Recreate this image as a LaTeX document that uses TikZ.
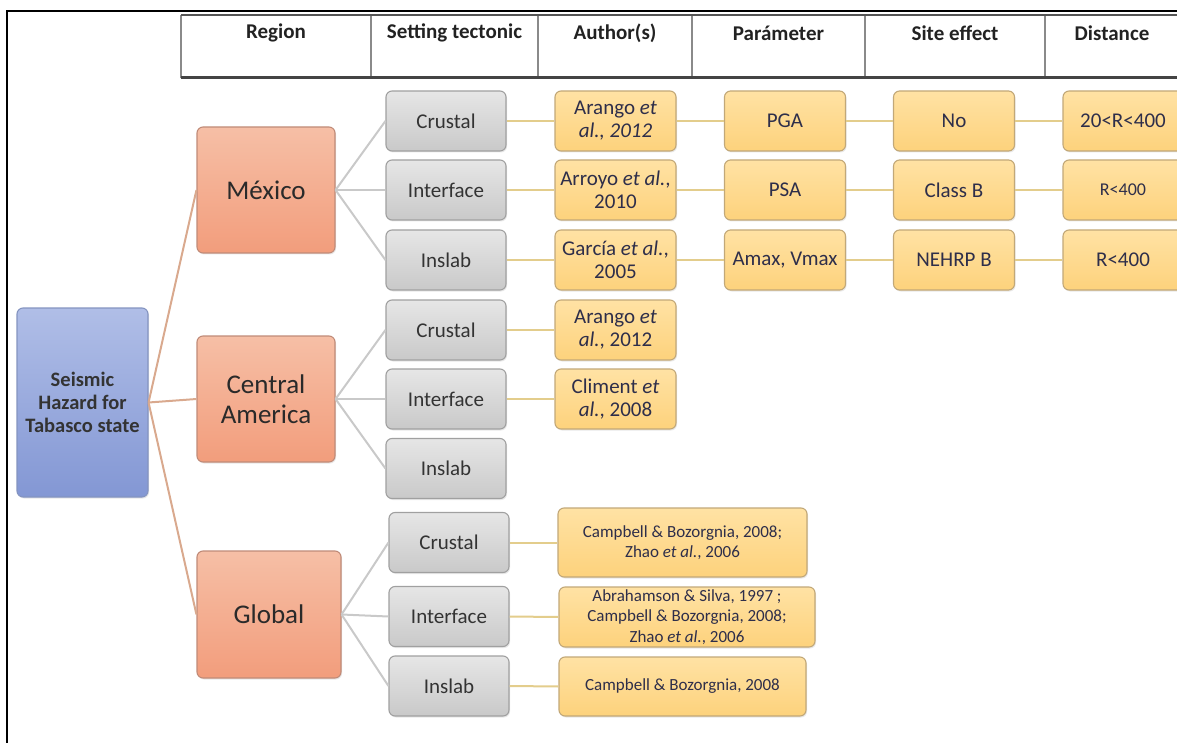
\documentclass[tikz,border=0pt]{standalone}
\usepackage{fontspec}
\setmainfont{Carlito}
\usetikzlibrary{shadows}

\definecolor{txtgray}{HTML}{333333}
\definecolor{txtnavy}{HTML}{2E2E4A}
\definecolor{rootline}{HTML}{D9A98E}
\definecolor{grayline}{HTML}{C9C9C9}
\definecolor{goldline}{HTML}{E3CD8C}
\definecolor{rootdraw}{HTML}{8494C0}
\definecolor{roottop}{HTML}{B0BEE7}
\definecolor{rootbot}{HTML}{8397D4}
\definecolor{regdraw}{HTML}{C08B78}
\definecolor{regtop}{HTML}{F6BFA6}
\definecolor{regbot}{HTML}{F29D7C}
\definecolor{tectdraw}{HTML}{A0A0A0}
\definecolor{tecttop}{HTML}{E6E6E6}
\definecolor{tectbot}{HTML}{C9C9C9}
\definecolor{refdraw}{HTML}{C2A878}
\definecolor{reftop}{HTML}{FFE2A4}
\definecolor{refbot}{HTML}{FDD27C}
\definecolor{hdrtext}{HTML}{222222}
\definecolor{regtext}{HTML}{2A2A2A}
\definecolor{rulegray}{HTML}{8A8A8A}
\definecolor{ruletop}{HTML}{555555}
\definecolor{rulebot}{HTML}{444444}

\newcommand\fsz[2]{\fontsize{#1}{#2}\selectfont}

\tikzset{
  box/.style={rounded corners=6pt, line width=1.1pt, inner sep=0pt, align=center,
    drop shadow={shadow xshift=1pt, shadow yshift=-1.5pt, opacity=0.18}},
  rootbox/.style={box, draw=rootdraw, top color=roottop, bottom color=rootbot,
    minimum width=131pt, minimum height=189pt, font=\fsz{20.5}{23}\bfseries, text=txtgray},
  regionbox/.style={box, draw=regdraw, top color=regtop, bottom color=regbot,
    minimum width=138pt, minimum height=126pt, font=\fsz{27}{30}, text=regtext},
  tectbox/.style={box, draw=tectdraw, top color=tecttop, bottom color=tectbot,
    minimum width=120pt, minimum height=60pt, font=\fsz{21}{24}, text=txtgray},
  refbox/.style={box, draw=refdraw, top color=reftop, bottom color=refbot,
    minimum width=121pt, minimum height=60pt, font=\fsz{21}{23}, text=txtnavy},
  wideref/.style={refbox, font=\fsz{17}{20.5}},
  hdr/.style={font=\fsz{21}{24}\bfseries, text=hdrtext},
  rootlink/.style={rootline, line width=2pt},
  reglink/.style={grayline, line width=2pt},
  reflink/.style={goldline, line width=2pt}
}

\begin{document}
\begin{tikzpicture}[x=1pt, y=-1pt]

\useasboundingbox (0,0) rectangle (1177,743);
\clip (0,0) rectangle (1177,743);

% frame
\draw[line width=2.2pt] (7,743) -- (7,11) -- (1177,11);

% header table
\draw[rulegray, line width=1.5pt] (181,15) -- (181,78);
\foreach \xd in {371,538,692,865,1045}
  \draw[rulegray, line width=1.3pt] (\xd,15) -- (\xd,78);
\draw[ruletop, line width=2pt] (181,15) -- (1177,15);
\draw[rulebot, line width=3pt] (181,78) -- (1177,78);

\node[hdr] (hreg) at (276,33) {Region};
\node[hdr] (hset) at (454.5,33) {Setting tectonic};
\node[hdr] (haut) at (615,33) {Author(s)};
\node[hdr] (hpar) at (778.5,33) {Parámeter};
\node[hdr] (hsit) at (955,33) {Site effect};
\node[hdr] (hdis) at (1112,33) {Distance};

% root and regions
\node[rootbox] (root) at (82.5,402.5) {Seismic\\Hazard for\\Tabasco state};
\node[regionbox] (mex) at (266,190) {México};
\node[regionbox] (cam) at (266,399) {Central\\America};
\node[regionbox, minimum width=144pt, minimum height=127pt] (glo) at (269,614.5) {Global};

% tectonic settings
\node[tectbox] (mexcru) at (446,121) {Crustal};
\node[tectbox] (mexint) at (446,190) {Interface};
\node[tectbox] (mexins) at (446,260) {Inslab};
\node[tectbox] (camcru) at (446,330) {Crustal};
\node[tectbox] (camint) at (446,399) {Interface};
\node[tectbox] (camins) at (446,468.5) {Inslab};
\node[tectbox] (glocru) at (449,542.5) {Crustal};
\node[tectbox] (gloint) at (449,616.5) {Interface};
\node[tectbox] (gloins) at (449,686) {Inslab};

% authors
\node[refbox] (mexcrua) at (615.5,121) {Arango \textit{et}\\\textit{al., 2012}};
\node[refbox] (mexinta) at (615.5,190) {Arroyo \textit{et al.},\\2010};
\node[refbox] (mexinsa) at (615.5,260) {García \textit{et al.},\\2005};
\node[refbox] (camcrua) at (615.5,330) {Arango \textit{et}\\\textit{al.}, 2012};
\node[refbox] (caminta) at (615.5,399) {Climent \textit{et}\\\textit{al.}, 2008};
\node[wideref, minimum width=249pt, minimum height=69pt] (glocrua) at (682.5,542.5)
  {Campbell \& Bozorgnia, 2008;\\Zhao \textit{et al.}, 2006};
\node[wideref, minimum width=256pt, minimum height=60pt] (glointa) at (687,617)
  {Abrahamson \& Silva, 1997 ;\\Campbell \& Bozorgnia, 2008;\\Zhao \textit{et al.}, 2006};
\node[wideref, minimum width=247pt, minimum height=59pt] (gloinsa) at (682.5,686.5)
  {Campbell \& Bozorgnia, 2008};

% parameter, site effect, distance (Mexico only)
\node[refbox] (mexcrup) at (785,121) {PGA};
\node[refbox] (mexintp) at (785,190) {PSA};
\node[refbox] (mexinsp) at (785,260) {Amax, Vmax};
\node[refbox] (mexcrus) at (954,121) {No};
\node[refbox] (mexints) at (954,190) {Class B};
\node[refbox] (mexinss) at (954,260) {NEHRP B};
\node[refbox, minimum width=120pt] (mexcrud) at (1123,121) {20<R<400};
\node[refbox, minimum width=120pt, font=\fsz{18}{21}] (mexintd) at (1123,190) {R<400};
\node[refbox, minimum width=120pt] (mexinsd) at (1123,260) {R<400};

% connectors
\foreach \r in {mex,cam,glo}
  \draw[rootlink] (root.east) -- (\r.west);
\foreach \r in {mex,cam,glo}
  \foreach \t in {cru,int,ins}
    \draw[reglink] (\r.east) -- (\r\t.west);
\foreach \n in {mexcru,mexint,mexins,camcru,camint,glocru,gloint,gloins}
  \draw[reflink] (\n.east) -- (\n a.west);
\foreach \n in {mexcru,mexint,mexins} {
  \draw[reflink] (\n a.east) -- (\n p.west);
  \draw[reflink] (\n p.east) -- (\n s.west);
  \draw[reflink] (\n s.east) -- (\n d.west);
}

\end{tikzpicture}
\end{document}
